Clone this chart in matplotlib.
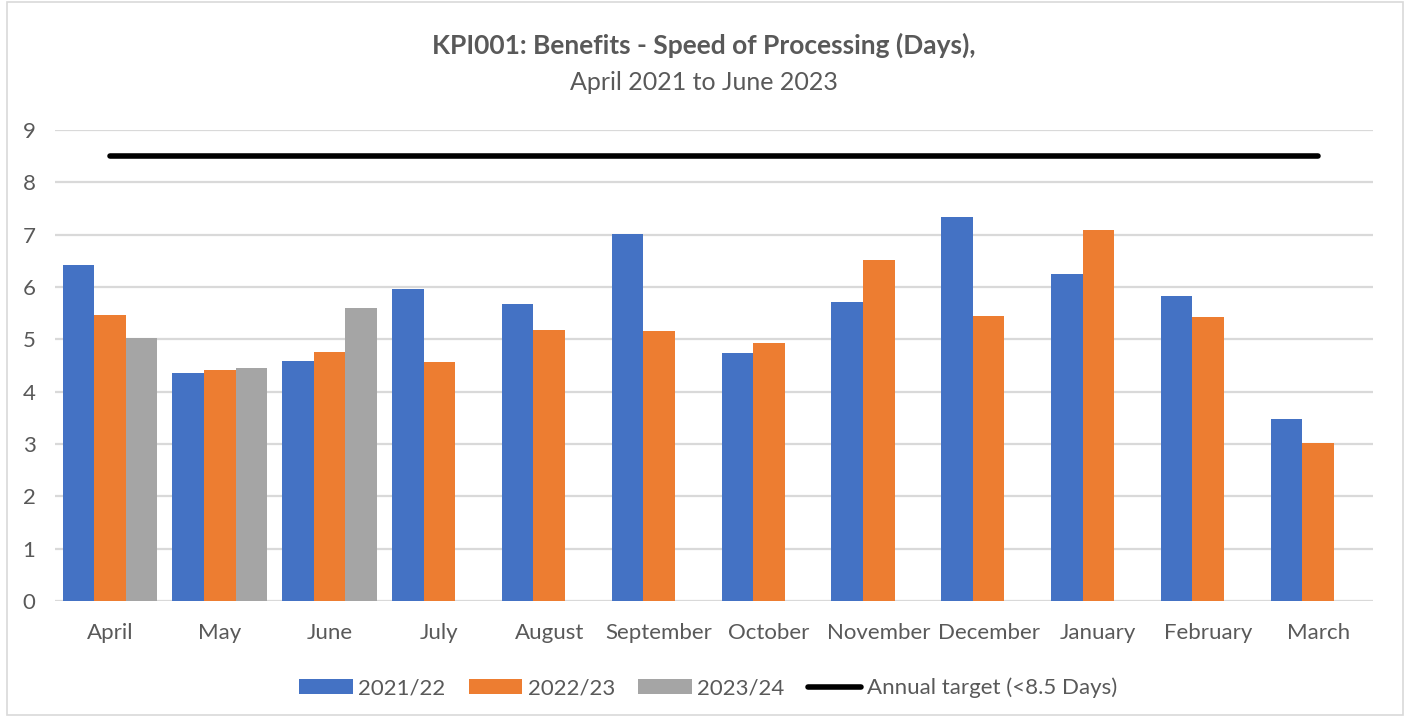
import numpy as np
import matplotlib
matplotlib.use("Agg")
import matplotlib.pyplot as plt
from matplotlib.patches import Rectangle

months = ["April", "May", "June", "July", "August", "September", "October",
          "November", "December", "January", "February", "March"]
y2021_22 = [6.42, 4.36, 4.59, 5.96, 5.68, 7.01, 4.74, 5.71, 7.34, 6.25, 5.83, 3.48]
y2022_23 = [5.46, 4.41, 4.76, 4.57, 5.18, 5.16, 4.93, 6.52, 5.45, 7.09, 5.43, 3.02]
y2023_24 = [5.03, 4.45, 5.60, None, None, None, None, None, None, None, None, None]
target = [8.5, 8.5, 8.5, 8.5, 8.5, 8.5, 8.5, 8.5, 8.5, 8.5, 8.5, 8.5]
series_labels = ["2021/22", "2022/23", "2023/24", "Annual target (<8.5 Days)"]
yticks = [0, 1, 2, 3, 4, 5, 6, 7, 8, 9]

plt.rcParams["font.family"] = ["Lato", "DejaVu Sans"]
TEXT = "#595959"
GRID = "#D9D9D9"
colors = ["#4472C4", "#ED7D31", "#A5A5A5"]

W, H = 1407, 717
fig = plt.figure(figsize=(W / 100, H / 100), dpi=100)
fig.patch.set_facecolor("white")

# thin frame round the chart area
fig.add_artist(Rectangle((7 / W, 2 / H), (1403 - 7) / W, (715 - 2) / H,
                         transform=fig.transFigure, fill=False,
                         edgecolor=GRID, linewidth=1.2))

ax = fig.add_axes([55 / W, (H - 601) / H, (1373 - 55) / W, (601 - 130) / H])

x = np.arange(len(months))
bw = 0.287
series = [y2021_22, y2022_23, y2023_24]
handles = []
for i, (vals, col) in enumerate(zip(series, colors)):
    v = np.array([np.nan if a is None else a for a in vals], dtype=float)
    b = ax.bar(x + (i - 1) * bw, v, width=bw, color=col, zorder=2,
               label=series_labels[i])
    handles.append(b)

ln, = ax.plot(x, target, color="black", linewidth=4, solid_capstyle="round",
              zorder=3, label=series_labels[3])
handles.append(ln)

ax.set_xlim(-0.5, len(months) - 0.5)
ax.set_ylim(0, 9)
ax.set_yticks(yticks)
ax.set_xticks(x)
ax.set_xticklabels(months)
ax.yaxis.grid(True, color=GRID, linewidth=1.6, zorder=0)
ax.set_axisbelow(True)
for s in ax.spines.values():
    s.set_visible(False)
ax.tick_params(axis="both", length=0, labelsize=16, labelcolor=TEXT)
ax.tick_params(axis="y", pad=14)
ax.tick_params(axis="x", pad=16)

fig.text(0.5, (H - 45) / H, "KPI001: Benefits - Speed of Processing (Days),",
         ha="center", va="center", fontsize=19, fontweight="bold", color=TEXT)
fig.text(0.5, (H - 82) / H, "April 2021 to June 2023",
         ha="center", va="center", fontsize=18, color=TEXT)

leg = fig.legend(handles=handles, labels=series_labels, loc="center",
                 bbox_to_anchor=(708 / W, (H - 688) / H), ncol=4, frameon=False,
                 fontsize=16, handlelength=2.4, handleheight=0.65,
                 handletextpad=0.25, columnspacing=1.05)
for t in leg.get_texts():
    t.set_color(TEXT)

fig.savefig("out.png", dpi=100, facecolor="white")
